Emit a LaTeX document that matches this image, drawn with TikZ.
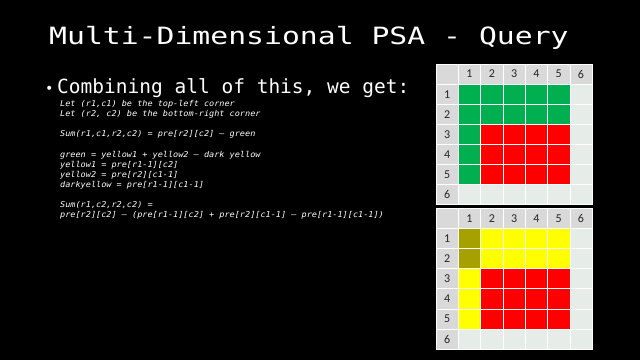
\documentclass[tikz,border=0pt]{standalone}
\usepackage{fontspec}
\usepackage{xcolor}
\newfontfamily\titlefont[FakeStretch=1.25]{DejaVu Sans Mono}
\newfontfamily\bodyfont{DejaVu Sans Mono}
\newfontfamily\codefont[FakeStretch=1.06]{DejaVu Sans Mono}
\newfontfamily\gridfont{Carlito}
\definecolor{headcell}{HTML}{D9D9D9}
\definecolor{emptycell}{HTML}{E6EDE8}
\definecolor{greencell}{HTML}{00B050}
\definecolor{redcell}{HTML}{FF0000}
\definecolor{yellowcell}{HTML}{FFFF00}
\definecolor{olivecell}{HTML}{A6A000}

\begin{document}
\begin{tikzpicture}[x=1pt, y=-1pt,
  every node/.style={inner sep=0pt},
  cell/.style={draw=white, line width=0.7pt, minimum width=22.3pt, minimum height=20.1pt},
  hdr/.style={cell, fill=headcell, text=black!85, font=\gridfont\fontsize{12}{14}\selectfont},
  codeline/.style={anchor=base west, text=white, font=\codefont\itshape\fontsize{8.05}{10}\selectfont}]

\fill[black] (0,0) rectangle (640,360);

\node[anchor=base west, text=white, font=\titlefont\fontsize{23.8}{28}\selectfont] (title) at (49,44) {Multi-Dimensional PSA - Query};

\node[anchor=base west, text=white, font=\bodyfont\fontsize{14}{17}\selectfont] (bullet) at (45,93) {•};
\node[anchor=base west, text=white, font=\bodyfont\fontsize{19.5}{23}\selectfont] (intro) at (57,93) {Combining all of this, we get:};

% the formula, one line per node
\foreach \k/\txt [count=\i] in {
  0/{Let (r1,c1) be the top-left corner},
  1/{Let (r2, c2) be the bottom-right corner},
  3/{Sum(r1,c1,r2,c2) = pre[r2][c2] – green},
  5/{green = yellow1 + yellow2 – dark yellow},
  6/{yellow1 = pre[r1-1][c2]},
  7/{yellow2 = pre[r2][c1-1]},
  8/{darkyellow = pre[r1-1][c1-1]},
  10/{Sum(r1,c2,r2,c2) =},
  11/{pre[r2][c2] – (pre[r1-1][c2] + pre[r2][c1-1] – pre[r1-1][c1-1])}}
  \node[codeline] (code\i) at (60,{106.3+10.15*\k}) {\txt};

% top table: the query rectangle
\node[hdr] (sum-0-0) at (447.2,74.1) {};
\foreach \c in {1,...,6}
  \node[hdr] (sum-0-\c) at ({447.2+22.3*\c},74.1) {\c};
\foreach \r in {1,...,6}
  \node[hdr] (sum-\r-0) at (447.2,{74.1+20.1*\r}) {\r};
\foreach \r in {1,...,6}
  \foreach \c in {1,...,6}{
    \def\cellfill{emptycell}
    \ifnum\r<6 \ifnum\c<6
      \def\cellfill{greencell}
      \ifnum\r>2 \ifnum\c>1 \def\cellfill{redcell}\fi\fi
    \fi\fi
    \node[cell, fill=\cellfill] (sum-\r-\c) at ({447.2+22.3*\c},{74.1+20.1*\r}) {};
  }

% bottom table: the yellow parts
\node[hdr] (part-0-0) at (447.2,218.4) {};
\foreach \c in {1,...,6}
  \node[hdr] (part-0-\c) at ({447.2+22.3*\c},218.4) {\c};
\foreach \r in {1,...,6}
  \node[hdr] (part-\r-0) at (447.2,{218.4+20.1*\r}) {\r};
\foreach \r in {1,...,6}
  \foreach \c in {1,...,6}{
    \def\cellfill{emptycell}
    \ifnum\r<6 \ifnum\c<6
      \def\cellfill{yellowcell}
      \ifnum\r<3 \ifnum\c=1 \def\cellfill{olivecell}\fi\fi
      \ifnum\r>2 \ifnum\c>1 \def\cellfill{redcell}\fi\fi
    \fi\fi
    \node[cell, fill=\cellfill] (part-\r-\c) at ({447.2+22.3*\c},{218.4+20.1*\r}) {};
  }

\end{tikzpicture}
\end{document}
